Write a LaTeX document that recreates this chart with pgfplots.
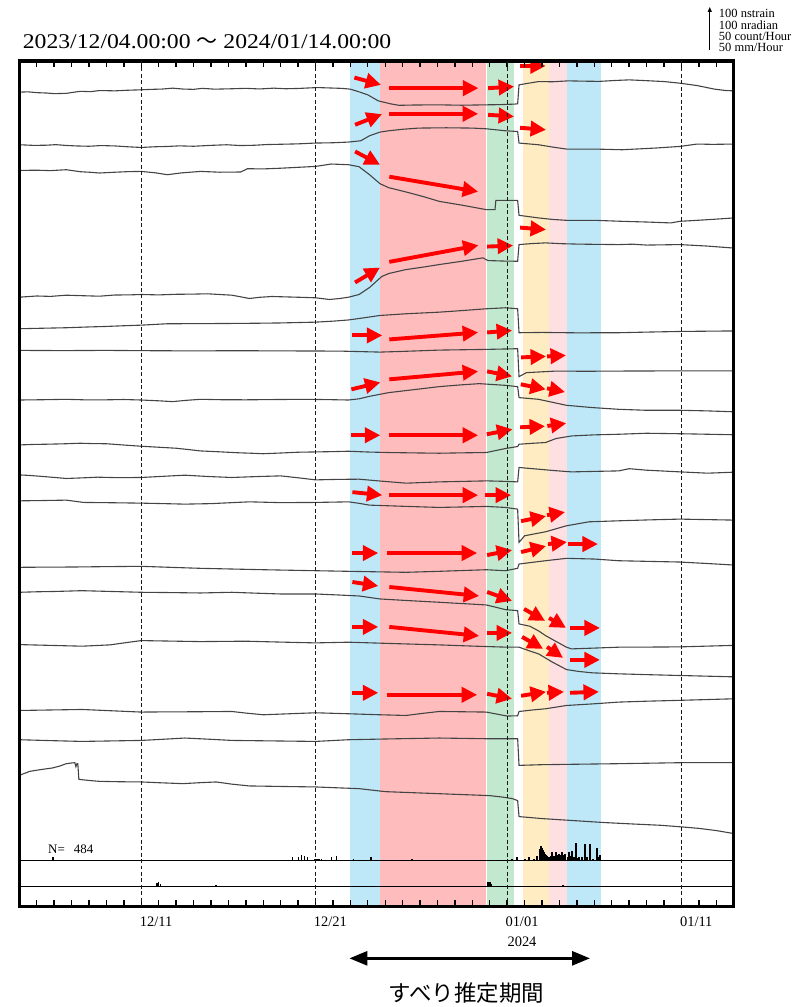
\documentclass[border=0pt]{standalone}
\usepackage{fontspec}
\setmainfont{Liberation Serif}
\newfontfamily\titlefont[FakeStretch=1.13]{Liberation Serif}
\newfontfamily\cjk{Noto Sans CJK JP}
\usepackage{pgfplots}
\pgfplotsset{compat=1.18}
\usetikzlibrary{arrows.meta}

\definecolor{bandblue}{RGB}{190,232,248}
\definecolor{bandred}{RGB}{255,188,188}
\definecolor{bandgreen}{RGB}{194,232,208}
\definecolor{bandyellow}{RGB}{255,236,194}
\definecolor{bandpink}{RGB}{255,224,226}
\definecolor{trace}{RGB}{68,68,68}

\tikzset{redarr/.style={red, line width=3.9pt, -{Triangle[length=15.5pt,width=15pt]}}}
\pgfplotsset{tr/.style={trace, line width=1.1pt, mark=none, solid}}
% arrows given in picture x (px) and trace y; x is turned into days first
\newcommand{\rar}[4]{%
  \pgfmathsetmacro\xa{(#1-19.3)/17.456}%
  \pgfmathsetmacro\xb{(#3-19.3)/17.456}%
  \edef\tmp{\noexpand\draw[redarr] (axis cs:\xa,#2) -- (axis cs:\xb,#4);}\tmp}

\begin{document}
\begin{tikzpicture}

\begin{axis}[
  at={(19.3pt,-908pt)}, anchor=south west,
  scale only axis, width=715.7pt, height=847pt,
  axis on top,
  xmin=0, xmax=41, ymin=61, ymax=908, y dir=reverse,
  axis line style={line width=3.5pt},
  ytick=\empty,
  xtick={7.85,17.85,28.85,38.85},
  xticklabels={12/11,12/21,{01/01\\2024},01/11},
  xticklabel style={align=center, font=\fontsize{14.5}{20}\selectfont, yshift=-7pt},
  major tick length=0pt,
  minor xtick={1,...,40},
  minor tick length=6pt,
  tick align=inside,
  tick style={black, line width=1.4pt},
  extra x ticks={7,17,28,38},
  extra x tick labels={},
  extra x tick style={grid=major},
  major grid style={black!90, line width=0.8pt, dash pattern=on 4pt off 2.5pt},
]

% estimated periods
\addplot[draw=none, fill=bandblue] coordinates {(19.00,61)(20.72,61)(20.72,908)(19.00,908)};
\addplot[draw=none, fill=bandred] coordinates {(20.72,61)(26.79,61)(26.79,908)(20.72,908)};
\addplot[draw=none, fill=bandgreen] coordinates {(26.87,61)(28.40,61)(28.40,908)(26.87,908)};
\addplot[draw=none, fill=bandyellow] coordinates {(28.91,61)(30.42,61)(30.42,908)(28.91,908)};
\addplot[draw=none, fill=bandpink] coordinates {(30.42,61)(31.45,61)(31.45,908)(30.42,908)};
\addplot[draw=none, fill=bandblue] coordinates {(31.45,61)(33.38,61)(33.38,908)(31.45,908)};

% traces
\addplot[tr] coordinates {(0,92.3)(0.5,92)(1,92.8)(1.6,93.2)(2,93.8)(2.7,93.5)(3.2,92.2)(3.5,91.5)(4.1,91.8)(4.6,90.7)(5.5,91)(6.2,90.4)(6.9,90)(7.6,89.5)(8.2,89.2)(8.8,88.3)(9.4,89.2)(10,89.5)(10.5,88.5)(11.2,89.3)(12,89)(13,88.5)(13.8,89.1)(14.6,88.3)(15.3,88.9)(16,88.6)(17.1,87.7)(17.8,88.1)(18.5,88.5)(19,89.3)(19.5,92)(20,95)(20.6,101)(21.3,104)(21.8,105.5)(22.6,105.2)(24,105)(25.4,105.4)(26.8,105)(27.6,104.8)(28.4,104.3)(28.6,104)(28.68,85)(29,84)(29.8,81.7)(30.6,81.9)(31.5,81)(32.4,81.3)(33.3,81.5)(34.2,80.6)(35,80)(36,80.8)(37,81.7)(37.9,83.3)(38.9,85.7)(39.9,89.3)(40.5,90.6)(41,91)};
\addplot[tr] coordinates {(0,145)(0.8,145.6)(1.5,145.5)(2.1,144.9)(2.7,145.7)(3.3,146.2)(4,146.5)(4.7,145.8)(5.5,146.2)(6.3,147.1)(7,147.7)(7.8,147)(8.5,146.7)(9.2,146.1)(10,146.5)(11,145.6)(11.9,145)(12.7,145.8)(13.5,145.5)(14.2,144.8)(15,144.5)(16,144.1)(17,143.3)(18,143)(18.9,142.3)(19.6,141)(20.1,136)(20.7,132.3)(21.2,131)(22,129.5)(22.9,128.3)(24.5,128)(26.0,128.3)(26.8,129)(27.9,131)(28.6,131.7)(28.68,143.3)(29.8,145)(30.6,147.3)(31.4,149.3)(33,149.3)(34.6,150)(35.5,149.2)(36.5,148.3)(37.9,146.7)(38.9,144.3)(39.8,144.6)(41,144.3)};
\addplot[tr] coordinates {(0,170.7)(1,170.5)(1.8,170.9)(2.7,170)(3.5,172)(4.1,172.6)(4.6,173.3)(5.5,172.5)(6.3,171.9)(7,171.7)(7.8,173.1)(8.5,175)(9.3,173.2)(10.4,171.7)(11.5,172.5)(12.7,172.3)(13.1,169)(14,169.2)(15,168.5)(16,167.6)(17,166.7)(17.9,164.3)(18.9,165)(19.5,167)(20.1,175)(20.7,184)(21.2,188)(22.2,192.3)(23.2,197)(24.1,201.7)(25.5,205.8)(26.8,210)(27.3,210)(27.35,200.7)(28.6,200.7)(28.68,215.7)(29.8,218.3)(30.6,219.8)(31.4,220.7)(33,220.7)(34.6,221.7)(36,222.4)(37.4,223.3)(37.9,221.7)(39,220.6)(40,219.5)(41,218.3)};
\addplot[tr] coordinates {(0,297.7)(1,296.5)(1.8,296.9)(2.7,295.7)(3.6,296.2)(4.6,296.7)(5.5,295.5)(6.3,295.4)(7,295)(8,295.4)(9,294.8)(10,294.6)(10.8,294.3)(11.5,295)(12.2,295.7)(12.7,297.3)(13.2,299)(13.8,297.8)(14.5,297)(15.5,297.5)(16.3,297.9)(17,298.3)(17.8,300)(18.4,299)(18.9,297.7)(19.5,295)(20.1,288)(20.8,277)(21.2,274)(22.2,270)(23.2,267.5)(24.1,265)(25.4,261.7)(26.6,258.3)(26.9,261)(27.8,261.5)(28.6,261.7)(28.68,245)(29.4,244)(30.2,243.3)(31.1,244.1)(32,244.5)(33.2,244.8)(34.4,245)(35.2,244.6)(36,245.5)(37.9,245)(39.5,246.5)(41,248.5)};
\addplot[tr] coordinates {(0,329.3)(1.3,328.8)(2.7,328.3)(4,327.5)(5,327)(6,326.3)(7,325.7)(8.5,324.3)(10.3,324.2)(12.2,324)(13.6,323.8)(15,323.5)(17,322.7)(18,321.7)(18.9,320.5)(19.8,318.3)(20.7,316)(22.2,314.3)(24.1,312.7)(25.5,311)(26.8,309.3)(27.9,308.3)(28.6,309.3)(28.68,333.3)(30,333)(32,333.4)(34.4,333.3)(36.2,332.6)(38,332)(41,331.5)};
\addplot[tr] coordinates {(0,351)(2.5,351.2)(5,351)(7.5,351.3)(10,351.5)(12.5,351.3)(15,351.5)(18.4,351.7)(20.7,352.7)(22,352)(24.1,350.7)(26.8,350)(28.6,349.3)(28.68,377.3)(29.1,373.3)(30.8,371.7)(32.5,371.9)(34.4,371.7)(38,371.5)(41,371.5)};
\addplot[tr] coordinates {(0,400.7)(1.4,400.4)(2.7,400)(3.9,400.6)(5,400.5)(6,400.2)(7,400.7)(8,401.5)(8.8,402.3)(9.6,401)(10.4,400)(11.6,400.4)(13,400.5)(14.8,400.2)(16.5,400)(17.7,400.3)(18.9,400.7)(19.5,399.5)(20.1,397)(21.2,393.3)(22.7,390.2)(24.1,387.3)(25.3,385.6)(26.4,384.3)(27.1,385.1)(27.9,386)(28.6,387.3)(28.68,398.3)(29.8,400)(30.6,403)(31.4,406)(32.9,408.3)(34.4,410)(36,411)(38,411)(39.5,411.6)(41,412.5)};
\addplot[tr] coordinates {(0,445.7)(0.8,445.2)(1.5,445)(2.5,444.6)(3.5,444)(4.3,444.4)(5,444.5)(6,445.8)(7,447)(8,448)(9,449)(9.7,450.3)(10.4,451.7)(11.5,452.6)(12.5,453.5)(13.3,454)(14,454.5)(15,453.8)(16,453)(17,452.7)(18,452.4)(18.9,452)(20,452.8)(21.2,453.3)(22.7,453.7)(24.1,454)(25.5,453.6)(26.8,453.3)(27.3,451.5)(27.9,449.3)(28.6,447.3)(28.68,445)(29.5,444)(30.2,443.3)(30.8,439.3)(31.7,436.7)(33,435.6)(34.4,435)(36,434)(38,434.5)(39.5,435)(41,435.5)};
\addplot[tr] coordinates {(0,475.7)(0.7,476.4)(1.5,477.5)(2.7,479.3)(3.6,478.7)(4.5,478)(5.7,478.5)(7,478.3)(8.3,477.1)(9.5,476)(10.8,477.3)(12.2,478.3)(13.6,477.4)(15,476.7)(16,478.6)(17,480.7)(18.3,480.2)(19.5,480)(20.8,482)(22.2,484)(23.1,483.4)(24.1,482.7)(25.5,482.2)(26.8,481.7)(27.7,482.1)(28.6,482.7)(28.68,468.3)(29.8,470)(30.7,471.4)(31.7,472.7)(33,472.2)(34.4,471.7)(35,469.5)(36,471)(37.7,472.5)(39.5,474)(41,473)};
\addplot[tr] coordinates {(0,501.7)(1.3,501.4)(2.7,501)(3.7,503.3)(5.3,503.6)(7,504)(8.3,504.5)(9.5,505)(11,504.5)(12.1,503.6)(13.2,502.7)(15,503.5)(17,503.3)(18.9,502.7)(19.5,504.2)(20.1,506)(22.1,507.2)(24.1,508.3)(25.5,507.8)(26.8,507.3)(27.9,508.3)(28.6,510)(28.68,543.3)(29,536.7)(30.2,532.7)(31.4,526.7)(32.7,522.7)(34.4,521.7)(36.1,520.8)(37.9,520)(41,521)};
\addplot[tr] coordinates {(0,568.3)(1.5,568.1)(3,568)(5,567.6)(7,567.3)(9,568.5)(10.4,569.3)(12.2,570)(14,570.7)(15.5,571.2)(17,571.7)(18.9,572.3)(20.5,572.8)(22.2,573.3)(24.1,572.3)(26.8,570.7)(27.9,571.7)(28.6,569.3)(28.68,565)(29.4,563.4)(30.2,561.7)(31.4,559.3)(33,560)(34.4,561.7)(36,562.3)(37.9,563)(39.5,564.5)(41,566)};
\addplot[tr] coordinates {(0,593.3)(1,592.8)(2,592.5)(3.6,591.7)(5.3,592.5)(7,593.3)(8.7,593.6)(10.4,594)(12.2,593.3)(13.6,594.2)(15,595)(17,595)(18.3,596)(19.5,597)(20.7,600)(22.4,601.7)(24.1,603.3)(25.5,604.7)(26.8,606)(27.4,608.5)(27.9,610.7)(28.6,611.7)(28.68,625)(29.3,627.3)(29.8,632)(30.2,636.7)(30.8,642.5)(31.4,648.3)(31.7,650)(33,649.2)(34.4,648.3)(36,648.2)(37.9,648)(41,646.5)};
\addplot[tr] coordinates {(0,645.7)(1.8,646.5)(3.6,647.3)(5.2,646)(6.1,643.8)(7,641.7)(8.7,642.2)(10.4,642.7)(11.7,642.5)(13,642.3)(15,643.2)(17,644)(18.9,643.3)(21.5,644.7)(24.1,646)(26,647.2)(28,648.3)(28.68,648.3)(29.2,651.5)(29.8,655)(30.6,663.3)(31.4,670.7)(32.1,672.6)(32.9,674)(34.4,675)(36,675.8)(38,676.7)(41,678)};
\addplot[tr] coordinates {(0,711.7)(1.8,711.2)(3.6,710.7)(5.3,712)(7,713.3)(8.5,713.1)(10,713)(12.2,712.7)(13,714.3)(14,716)(15.5,715)(17,714)(18.9,715)(20.5,715.9)(22.2,716.7)(23.1,714.7)(24.1,712.7)(25.5,713)(26.8,713.3)(27.4,715.3)(28,717.3)(28.6,717)(28.68,712.7)(29.4,711.3)(30.2,710)(31.4,706.7)(33,705)(34.4,703.3)(36,702.4)(38,701.5)(41,700)};
\addplot[tr] coordinates {(0,741)(1.8,741.9)(3.6,742.7)(5.3,742.2)(7,741.7)(8.3,740.5)(9.5,739.3)(10.9,740.5)(12.2,741.7)(14.6,742.2)(17,742.7)(18.9,741)(21.5,740.1)(24.1,739.3)(26.8,740)(28.6,740)(28.68,766.7)(30,766)(32.2,765.5)(34.4,765)(38,764)(41,764)};
\addplot[tr] coordinates {(0,776.7)(0.6,772.7)(1.2,771)(1.9,769.3)(2.3,767.5)(2.7,765)(3.0,764.3)(3.19,764)(3.25,768)(3.31,765)(3.36,765)(3.42,780.7)(4.0,781.8)(4.6,782.7)(5.8,783.1)(7,783.3)(8.2,784.2)(9.4,785)(10.3,784.1)(11.3,783.3)(12.2,785.5)(13.2,787.3)(15,787.8)(17,788.3)(18.3,789.2)(19.5,790)(21,793)(22.5,794)(24,795)(25.5,796)(27,797)(27.7,798.4)(28.3,800)(28.6,802)(28.68,818)(30,820)(31.8,822)(33.6,824)(35.2,825.4)(36.8,826.7)(38,828.3)(39,829.8)(40,832)(41,835)};

% baselines of the two count panels
\addplot[black, line width=1pt] coordinates {(0,862.3)(41,862.3)};
\addplot[black, line width=1pt] coordinates {(0,887.7)(41,887.7)};
\node[anchor=west, inner sep=0, font=\fontsize{13}{13}\selectfont] at (axis cs:1.65,850.7) {N=\hspace{9pt}484};

% red arrows
\rar{355}{77.7}{381.7}{85}
\rar{390}{88.3}{479.3}{88.3}
\rar{489}{88.3}{515}{86.7}
\rar{521}{66}{546.7}{66}
\rar{355.7}{125}{382.7}{114.3}
\rar{390}{114}{479}{114}
\rar{489}{115}{515}{116.7}
\rar{521}{128}{547}{130}
\rar{355.7}{151.7}{380.7}{165}
\rar{390}{177}{479}{192}
\rar{521}{228}{547}{230}
\rar{355.7}{283}{380.7}{268}
\rar{390}{262.3}{479.3}{245.7}
\rar{488}{247}{514}{246}
\rar{353}{336}{383}{336}
\rar{390}{340}{479}{333}
\rar{488}{333}{513}{331}
\rar{522}{358}{547}{357}
\rar{548}{357}{567}{356}
\rar{352}{390}{381}{383}
\rar{390}{380}{479}{372}
\rar{488}{372}{513}{377}
\rar{521.7}{385}{546.7}{390}
\rar{548}{389}{566}{392.7}
\rar{352}{436}{381}{436}
\rar{390}{436}{479}{436}
\rar{487.7}{435}{513.3}{430}
\rar{521}{428}{546}{427}
\rar{548.3}{426.7}{567.3}{424}
\rar{353}{493}{383}{496}
\rar{390}{496}{479}{496}
\rar{486}{496}{512}{496}
\rar{522}{522}{547}{517}
\rar{548}{516}{566}{513}
\rar{353}{554}{379}{554}
\rar{388}{554}{478}{554}
\rar{488}{556}{513}{551}
\rar{522}{553}{547}{547}
\rar{549}{545}{568}{543}
\rar{569}{545}{599}{545}
\rar{353}{583}{379}{587}
\rar{390}{588}{480}{597}
\rar{488}{593}{513}{602}
\rar{525}{610}{546}{622}
\rar{550}{619}{567}{629}
\rar{571}{629}{601}{629}
\rar{353}{628}{379}{628}
\rar{390}{628}{480}{637}
\rar{488}{634}{513}{634}
\rar{523}{638}{544}{650}
\rar{548}{648}{564}{659}
\rar{571}{661}{601}{661}
\rar{353}{694}{379}{694}
\rar{388}{696}{478}{696}
\rar{488}{695}{513}{700}
\rar{522}{697}{547}{693}
\rar{548}{694}{565}{693}
\rar{571}{694}{600}{693}
\end{axis}

% hourly counts, upper panel
\begin{axis}[
  at={(19.3pt,-862.3pt)}, anchor=south west,
  scale only axis, width=715.7pt, height=42pt,
  xmin=0, xmax=41, ymin=0, ymax=50, hide axis,
]
\addplot[ycomb, black, line width=1.6pt, mark=none] coordinates {(1.93,4)(15.68,5)(16.02,4)(16.19,7)(16.37,6)(16.53,4)(16.94,2)(17.1,2)(17.2,2)(17.34,2)(17.91,4)(18.20,6)(19.17,2)(20.20,5)(22.55,2)(28.28,2)(28.57,5)(29.03,2)(29.26,4)(29.54,2)(29.71,6)(29.88,14)(29.94,18)(30.00,15)(30.06,13)(30.12,10)(30.17,8)(30.23,7)(30.29,6)(30.40,5)(30.50,6)(30.57,10)(30.69,6)(30.80,10)(30.9,7)(30.97,8)(31.05,7)(31.15,10)(31.25,7)(31.32,8)(31.45,4)(31.55,10)(31.65,6)(31.72,12)(31.84,5)(31.95,21)(32.05,3)(32.12,4)(32.29,4)(32.47,20)(32.58,4)(32.75,20)(32.92,2)(33.15,15)(33.25,5)(33.33,7)};
\end{axis}

% hourly counts, lower panel
\begin{axis}[
  at={(19.3pt,-887.7pt)}, anchor=south west,
  scale only axis, width=715.7pt, height=42pt,
  xmin=0, xmax=41, ymin=0, ymax=50, hide axis,
]
\addplot[ycomb, black, line width=1.6pt, mark=none] coordinates {(7.9,4)(8.0,5)(8.1,3)(11.3,1)(26.9,5)(27.0,5)(27.1,3)(31.2,1)};
\end{axis}

% title and scale legend
\node[anchor=base west, inner sep=0, font=\titlefont\fontsize{21}{21}\selectfont] at (22.7pt,-49pt) {2023/12/04.00:00 {\cjk 〜} 2024/01/14.00:00};
\draw[line width=1.2pt, -{Triangle[length=5pt,width=4pt]}] (711pt,-50pt) -- (711pt,-7pt);
\node[anchor=base west, inner sep=0, font=\fontsize{12.5}{12}\selectfont] at (720pt,-18pt) {100 nstrain};
\node[anchor=base west, inner sep=0, font=\fontsize{12.5}{12}\selectfont] at (720pt,-29.3pt) {100 nradian};
\node[anchor=base west, inner sep=0, font=\fontsize{12.5}{12}\selectfont] at (720pt,-40.7pt) {50 count/Hour};
\node[anchor=base west, inner sep=0, font=\fontsize{12.5}{12}\selectfont] at (720pt,-52pt) {50 mm/Hour};

% estimated slip period
\draw[line width=2.8pt, {Triangle[length=18pt,width=14pt]}-{Triangle[length=18pt,width=14pt]}] (350pt,-960pt) -- (591pt,-960pt);
\node[font=\cjk\fontsize{22.5}{22.5}\selectfont] at (467pt,-995pt) {すべり推定期間};

\path (0,0) rectangle (804pt,-1007pt);
\end{tikzpicture}
\end{document}
